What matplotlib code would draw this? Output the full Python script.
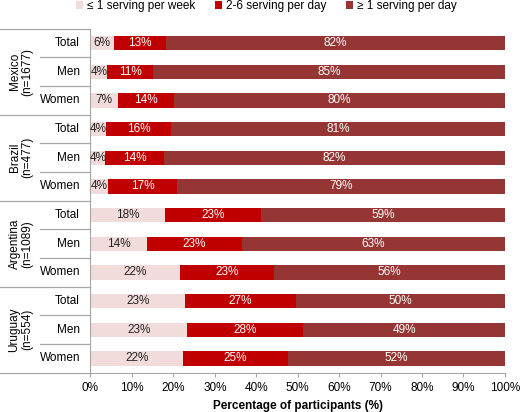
import matplotlib
matplotlib.use("Agg")
import matplotlib.pyplot as plt
from matplotlib.transforms import blended_transform_factory

plt.rcParams['font.family'] = ['Liberation Sans', 'DejaVu Sans']

# values (percent of participants)
countries = ["Mexico\n(n=1677)", "Brazil\n(n=477)", "Argentina\n(n=1089)", "Uruguay\n(n=554)"]
groups = ["Total", "Men", "Women"]
series_names = ["≤ 1 serving per week", "2-6 serving per day", "≥ 1 serving per day"]

weekly = [5.6, 4.1, 6.6, 3.8, 3.6, 4.3, 18.0, 13.6, 21.6, 22.8, 23.3, 22.4]
daily_2_6 = [12.6, 11.1, 13.6, 15.6, 14.1, 16.6, 23.1, 22.9, 22.8, 26.8, 28.0, 25.2]
daily_1 = [81.8, 84.8, 79.8, 80.6, 82.3, 79.1, 58.9, 63.4, 55.6, 50.4, 48.7, 52.4]

colors = ["#F2DCDB", "#C00000", "#963634"]
text_colors = ["#222222", "white", "white"]
grid_col = "#A6A6A6"

fig = plt.figure(figsize=(5.2, 4.12), dpi=100)
ax = fig.add_axes([0.174, 0.0954, 0.797, 0.8349])

n = len(weekly)
ypos = list(range(n))
left = [0.0] * n
for vals, col, tcol, name in zip([weekly, daily_2_6, daily_1], colors, text_colors, series_names):
    ax.barh(ypos, vals, left=left, height=0.5, color=col, label=name)
    for i, v in enumerate(vals):
        ax.text(left[i] + v / 2, i, f"{v:.0f}%", ha="center", va="center",
                color=tcol, fontsize=8.5)
    left = [a + b for a, b in zip(left, vals)]

ax.set_xlim(0, 100)
ax.set_ylim(n - 0.5, -0.5)
ax.set_yticks([])
ax.set_xticks(range(0, 101, 10))
ax.set_xticklabels([f"{t}%" for t in range(0, 101, 10)], fontsize=8.5)
ax.tick_params(axis="x", length=3, color=grid_col, pad=4)
ax.set_xlabel("Percentage of participants (%)", fontsize=8.5, fontweight="bold", labelpad=4)
for s in ["top", "right"]:
    ax.spines[s].set_visible(False)
for s in ["left", "bottom"]:
    ax.spines[s].set_color(grid_col)

# row labels and separators on the left
trans = blended_transform_factory(ax.transAxes, ax.transData)
x_far = -90.5 / 414.5
x_mid = (40 - 90.5) / 414.5
x_lab = (80 - 90.5) / 414.5
x_grp = (21 - 90.5) / 414.5
for i in range(n):
    ax.text(x_lab, i, groups[i % 3], transform=trans, ha="right", va="center", fontsize=8.5)
for k, c in enumerate(countries):
    ax.text(x_grp, 3 * k + 1, c, transform=trans, rotation=90, ha="center", va="center",
            fontsize=8.5, linespacing=1.1)
for b in range(n + 1):
    x0 = x_far if b % 3 == 0 else x_mid
    ax.plot([x0, 0], [b - 0.5, b - 0.5], transform=trans, color=grid_col,
            lw=0.9, clip_on=False)

fig.legend(loc="upper center", bbox_to_anchor=(0.512, 1.025), ncol=3, frameon=False,
           fontsize=8.5, handlelength=0.6, handleheight=0.6, handletextpad=0.3,
           columnspacing=1.7)

fig.savefig("out.png", dpi=100)
